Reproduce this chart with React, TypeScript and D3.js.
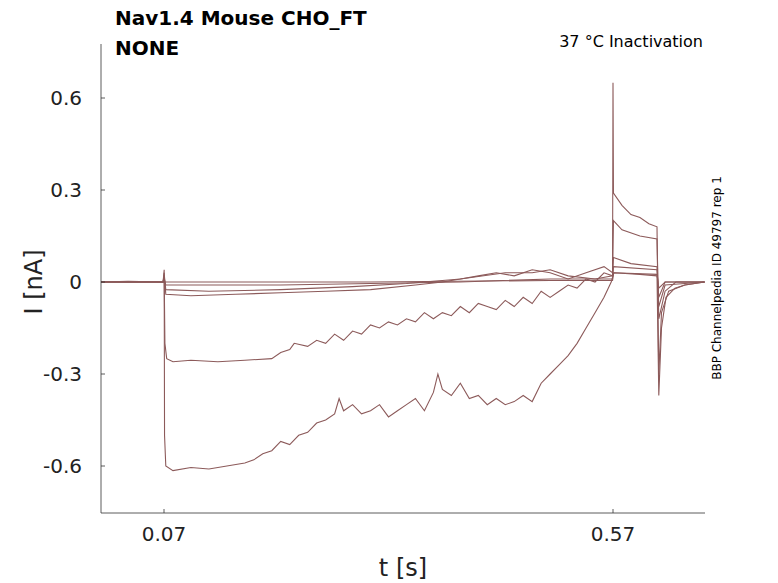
import React from 'react';
import * as d3 from 'd3';

// time [s] and current [nA] breakpoints per trace
const traceA: [number, number][] = [
  [0, 0], [0.03, 0.002], [0.069, 0], [0.0702, 0.04], [0.0706, -0.5], [0.072, -0.6], [0.08, -0.615], [0.1, -0.605],
  [0.12, -0.61], [0.14, -0.6], [0.16, -0.59], [0.17, -0.58], [0.18, -0.56], [0.19, -0.55], [0.2, -0.52],
  [0.21, -0.53], [0.22, -0.5], [0.23, -0.49], [0.24, -0.46], [0.25, -0.45], [0.26, -0.43], [0.265, -0.38],
  [0.27, -0.42], [0.28, -0.4], [0.29, -0.43], [0.3, -0.42], [0.31, -0.4], [0.32, -0.44], [0.33, -0.42],
  [0.34, -0.4], [0.35, -0.38], [0.36, -0.42], [0.37, -0.36], [0.375, -0.3], [0.38, -0.35], [0.39, -0.37],
  [0.4, -0.33], [0.41, -0.38], [0.42, -0.37], [0.43, -0.4], [0.44, -0.38], [0.45, -0.4], [0.46, -0.39],
  [0.47, -0.37], [0.48, -0.39], [0.49, -0.33], [0.5, -0.3], [0.51, -0.27], [0.52, -0.24], [0.53, -0.2],
  [0.54, -0.15], [0.55, -0.1], [0.56, -0.05], [0.568, 0.0], [0.571, 0.03], [0.6, 0.025], [0.619, 0.02],
  [0.621, -0.37], [0.624, -0.15], [0.629, -0.05], [0.639, -0.02], [0.65, -0.01], [0.672, 0],
];
const traceB: [number, number][] = [
  [0, 0], [0.069, 0], [0.0702, 0.02], [0.071, -0.2], [0.073, -0.25], [0.08, -0.26], [0.1, -0.255],
  [0.13, -0.26], [0.16, -0.255], [0.19, -0.25], [0.2, -0.23], [0.21, -0.22], [0.215, -0.2], [0.23, -0.21],
  [0.24, -0.19], [0.25, -0.2], [0.26, -0.17], [0.27, -0.19], [0.28, -0.16], [0.29, -0.17], [0.3, -0.14],
  [0.31, -0.15], [0.32, -0.13], [0.33, -0.14], [0.34, -0.12], [0.35, -0.13], [0.36, -0.1], [0.37, -0.12],
  [0.38, -0.1], [0.39, -0.11], [0.4, -0.08], [0.41, -0.1], [0.42, -0.07], [0.43, -0.08], [0.44, -0.09],
  [0.45, -0.06], [0.46, -0.08], [0.47, -0.05], [0.48, -0.07], [0.49, -0.03], [0.5, -0.05], [0.51, -0.03],
  [0.52, -0.01], [0.53, -0.02], [0.54, 0.01], [0.55, 0.0], [0.56, 0.03], [0.5695, 0.02], [0.57, 0.65],
  [0.5705, 0.29], [0.58, 0.25], [0.59, 0.22], [0.6, 0.21], [0.61, 0.19], [0.619, 0.18], [0.621, -0.3],
  [0.624, -0.1], [0.632, -0.03], [0.65, -0.01], [0.672, 0],
];
const traceC: [number, number][] = [
  [0, 0], [0.069, 0], [0.0702, 0.03], [0.072, -0.04], [0.1, -0.045], [0.15, -0.04], [0.2, -0.035],
  [0.25, -0.03], [0.3, -0.025], [0.35, -0.01], [0.38, 0.0], [0.4, 0.01], [0.42, 0.02], [0.44, 0.03],
  [0.46, 0.02], [0.48, 0.04], [0.5, 0.03], [0.52, 0.01], [0.54, 0.03], [0.56, 0.05], [0.5695, 0.03],
  [0.5705, 0.2], [0.58, 0.17], [0.6, 0.15], [0.619, 0.14], [0.621, -0.12], [0.628, -0.03], [0.64, 0], [0.672, 0],
];
const traceD: [number, number][] = [
  [0, 0], [0.069, 0], [0.0702, 0.02], [0.072, -0.025], [0.12, -0.03], [0.2, -0.025], [0.28, -0.015],
  [0.34, -0.005], [0.4, 0.01], [0.45, 0.03], [0.48, 0.03], [0.5, 0.04], [0.52, 0.02], [0.55, 0.01],
  [0.5695, 0.02], [0.5705, 0.08], [0.59, 0.06], [0.619, 0.05], [0.621, -0.08], [0.628, -0.01], [0.672, 0],
];
const traceE: [number, number][] = [
  [0, 0], [0.069, 0], [0.0702, 0.01], [0.072, -0.01], [0.2, -0.01], [0.3, -0.005], [0.4, 0.0],
  [0.5, 0.01], [0.5695, 0.01], [0.5705, 0.05], [0.619, 0.04], [0.621, -0.05], [0.628, 0], [0.672, 0],
];
const traceF: [number, number][] = [
  [0, 0], [0.069, 0], [0.072, 0.0], [0.3, 0.0], [0.5, 0.005], [0.5695, 0.005],
  [0.5705, 0.03], [0.619, 0.025], [0.621, -0.02], [0.628, 0], [0.672, 0],
];
const traces = [traceA, traceB, traceC, traceD, traceE, traceF];
const xTicks = [0.07, 0.57];
const yTicks = [-0.6, -0.3, 0, 0.3, 0.6];

export default function App() {
  const x = d3.scaleLinear().domain([0.07, 0.57]).range([164, 613]);
  const y = d3.scaleLinear().domain([-0.6, 0.6]).range([466, 98]);
  const line = d3.line<[number, number]>().x(d => x(d[0])).y(d => y(d[1]));
  const color = '#8c5a5a';
  const font = 'DejaVu Sans, sans-serif';
  return (
    <svg width={778} height={583} style={{ position: 'absolute', left: 0, top: 0, background: '#fff', whiteSpace: 'pre' }} fontFamily={font}>
      <g fill="none" stroke={color} strokeWidth={1.1}>
        {traces.map((t, i) => <path key={i} d={line(t) || ''} />)}
      </g>
      <line x1={101} x2={101} y1={44} y2={513} stroke="#333" strokeWidth={0.8} />
      <line x1={101} x2={705} y1={513} y2={513} stroke="#333" strokeWidth={0.8} />
      {yTicks.map(v => (
        <g key={v}>
          <line x1={101} x2={105} y1={y(v)} y2={y(v)} stroke="#333" strokeWidth={0.8} />
          <text x={82} y={y(v) + 7} textAnchor="end" fontSize={20} fill="#222">{v === 0 ? '0' : v.toFixed(1)}</text>
        </g>
      ))}
      {xTicks.map(v => (
        <g key={v}>
          <line x1={x(v)} x2={x(v)} y1={513} y2={509} stroke="#333" strokeWidth={0.8} />
          <text x={x(v)} y={541} textAnchor="middle" fontSize={20} fill="#222">{v.toFixed(2)}</text>
        </g>
      ))}
      <text x={403} y={576} textAnchor="middle" fontSize={24} fill="#222">t [s]</text>
      <text transform="translate(42,282) rotate(-90)" textAnchor="middle" fontSize={24} fill="#222">I [nA]</text>
      <text x={115} y={25} fontSize={20} fontWeight="bold" fill="#000">{'Nav1.4  Mouse  CHO_FT'}</text>
      <text x={115} y={55} fontSize={20} fontWeight="bold" fill="#000">NONE</text>
      <text x={703} y={47} textAnchor="end" fontSize={16} fill="#000">{'37 °C  Inactivation'}</text>
      <text transform="translate(721,278) rotate(-90)" textAnchor="middle" fontSize={12} fill="#000">BBP Channelpedia ID 49797 rep 1</text>
    </svg>
  );
}
